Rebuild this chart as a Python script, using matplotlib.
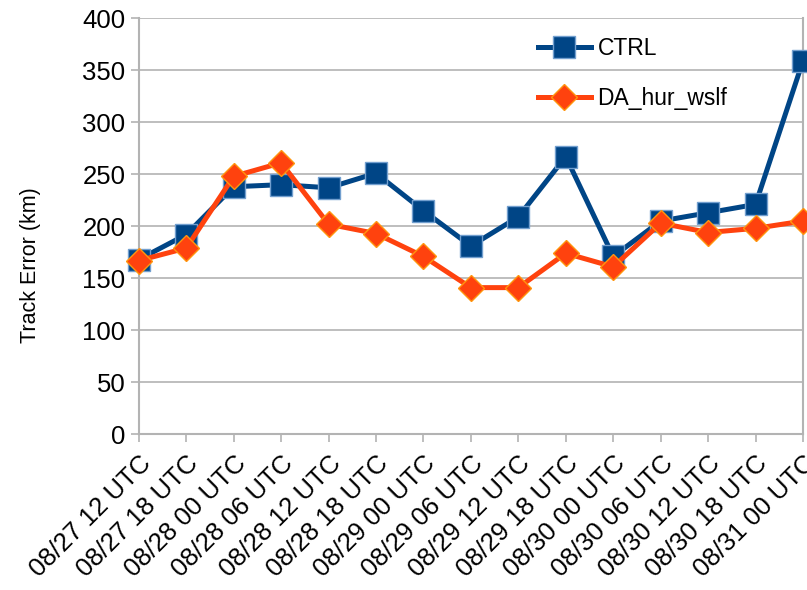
import numpy as np
import matplotlib.pyplot as plt
import matplotlib as mpl

mpl.rcParams['font.family'] = ['Liberation Sans', 'DejaVu Sans']

times = ['08/27 12 UTC', '08/27 18 UTC', '08/28 00 UTC', '08/28 06 UTC',
         '08/28 12 UTC', '08/28 18 UTC', '08/29 00 UTC', '08/29 06 UTC',
         '08/29 12 UTC', '08/29 18 UTC', '08/30 00 UTC', '08/30 06 UTC',
         '08/30 12 UTC', '08/30 18 UTC', '08/31 00 UTC']
ctrl = [168, 192, 238, 240, 237, 251, 215, 181, 209, 267, 171, 205, 213, 221, 359]
da_hur_wslf = [167, 179, 248, 261, 202, 193, 171, 141, 141, 174, 161, 203, 194, 198, 205]

grid_c = '#b3b3b3'

fig = plt.figure(figsize=(8.07, 5.9), dpi=100)
ax = fig.add_axes([0.172, 0.264, 0.823, 0.705])

x = np.arange(len(times))
ax.plot(x, ctrl, color='#004586', lw=3.6, marker='s', ms=15.5,
        mec='#729fcf', mew=1.0, label='CTRL', zorder=3, clip_on=False)
ax.plot(x, da_hur_wslf, color='#ff420e', lw=3.6, marker='D', ms=13,
        mec='#ff950e', mew=1.0, label='DA_hur_wslf', zorder=4, clip_on=False)

ax.set_xlim(0, len(times) - 1)
ax.set_ylim(0, 400)
ax.set_yticks(np.arange(0, 401, 50))
ax.set_xticks(x)
ax.set_xticklabels(times, rotation=45, ha='right', rotation_mode='anchor')
ax.tick_params(axis='both', labelsize=18.5, colors=grid_c, labelcolor='black',
               length=6, width=1.2)
ax.tick_params(axis='x', pad=6)
ax.grid(axis='y', color=grid_c, lw=1.2)
ax.set_axisbelow(True)
for s in ['left', 'bottom', 'right']:
    ax.spines[s].set_color(grid_c)
    ax.spines[s].set_linewidth(1.5)
ax.spines['top'].set_visible(False)

ax.set_ylabel('Track Error (km)', fontsize=15.5)
ax.yaxis.set_label_coords(-0.148, 0.406)

ax.legend(loc='upper left', bbox_to_anchor=(0.57, 1.005), frameon=False,
          fontsize=16.5, handlelength=2.3, labelspacing=1.2, handletextpad=0.3)

fig.savefig('out.png', dpi=100)
